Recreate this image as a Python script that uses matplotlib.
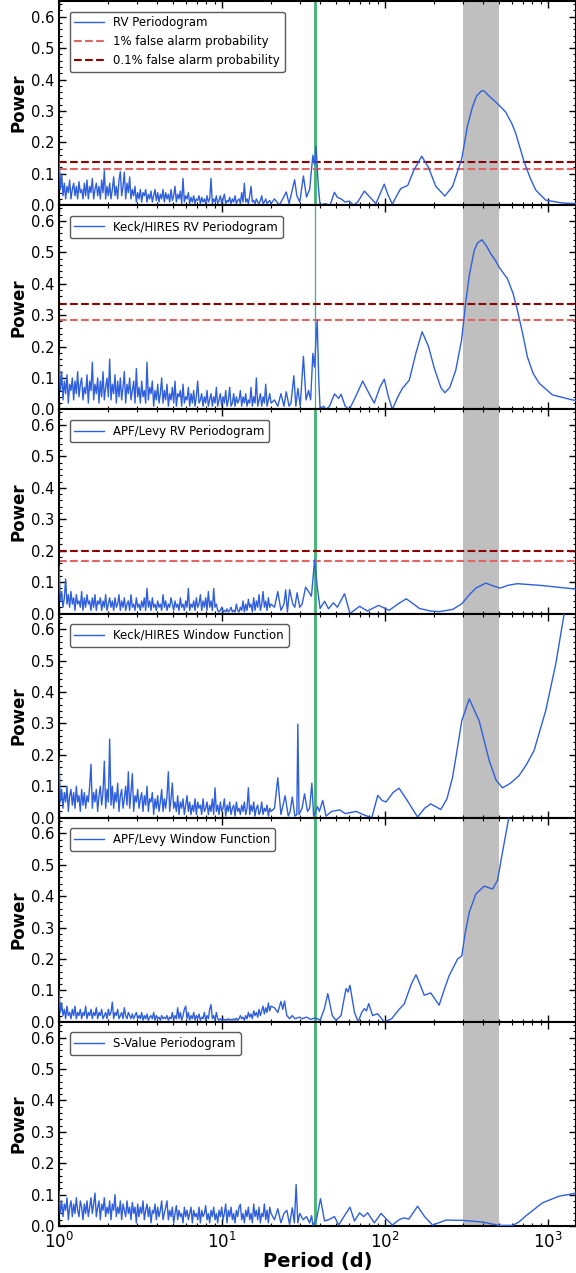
import numpy as np
import matplotlib
matplotlib.use('Agg')
import matplotlib.pyplot as plt
from matplotlib.ticker import AutoMinorLocator, LogLocator, MultipleLocator

# period grid of the noisy short-period part (1-20 d), shared by all panels
forest_per = np.geomspace(1, 20, 160)

# ---- RV periodogram (all data)
rv_forest = [0.16, 0.05, 0.10, 0.03, 0.07, 0.02, 0.06, 0.04, 0.08, 0.02, 0.05, 0.07, 0.03, 0.06, 0.02, 0.075, 0.04, 0.05, 0.02, 0.07,
             0.03, 0.08, 0.02, 0.06, 0.04, 0.085, 0.02, 0.05, 0.07, 0.03, 0.06, 0.02, 0.08, 0.04, 0.11, 0.02, 0.06, 0.03, 0.07, 0.02,
             0.05, 0.09, 0.03, 0.06, 0.02, 0.08, 0.107, 0.03, 0.06, 0.105, 0.02, 0.07, 0.04, 0.09, 0.02, 0.05, 0.03, 0.06, 0.01, 0.04,
             0.02, 0.05, 0.01, 0.04, 0.03, 0.05, 0.01, 0.035, 0.02, 0.045, 0.01, 0.03, 0.05, 0.015, 0.04, 0.01, 0.035, 0.02, 0.05, 0.01,
             0.04, 0.02, 0.035, 0.01, 0.05, 0.015, 0.03, 0.06, 0.01, 0.035, 0.02, 0.045, 0.005, 0.085, 0.01, 0.03, 0.02, 0.04, 0.005, 0.025,
             0.01, 0.03, 0.005, 0.02, 0.015, 0.03, 0.005, 0.025, 0.01, 0.02, 0.005, 0.03, 0.01, 0.02, 0.085, 0.005, 0.02, 0.01, 0.03, 0.005,
             0.015, 0.03, 0.005, 0.02, 0.035, 0.005, 0.015, 0.01, 0.025, 0.005, 0.02, 0.01, 0.03, 0.005, 0.015, 0.02, 0.005, 0.04, 0.01, 0.07,
             0.01, 0.02, 0.005, 0.03, 0.06, 0.01, 0.015, 0.005, 0.02, 0.01, 0.005, 0.015, 0.03, 0.005, 0.01, 0.02, 0.005, 0.01, 0.015, 0.005]
rv_tail_per = [21, 22.5, 24.8, 25.8, 26.5, 27.9, 28.8, 30, 31.6, 33, 34.5, 36.1, 36.9, 37.8,
               39, 40, 43, 46, 49, 51, 53.8, 57, 60.5, 64, 68, 74.8, 81, 88, 94, 99, 104,
               111, 118, 125, 138, 150, 168, 185, 205, 233, 260, 296, 320, 344, 365, 393, 410,
               430, 479, 520, 551, 600, 635, 714, 780, 842, 969, 1225, 1500]
rv_tail_pow = [0.02, 0.0, 0.042, 0.005, 0.03, 0.081, 0.03, 0.01, 0.093, 0.026, 0.05, 0.159,
               0.13, 0.188, 0.06, 0.0, 0.005, 0.0, 0.041, 0.025, 0.02, 0.01, 0.013, 0.0, 0.01,
               0.045, 0.025, 0.005, 0.04, 0.067, 0.035, 0.003, 0.03, 0.053, 0.063, 0.11,
               0.156, 0.12, 0.06, 0.029, 0.06, 0.148, 0.25, 0.312, 0.348, 0.365, 0.362, 0.35,
               0.328, 0.31, 0.296, 0.26, 0.228, 0.138, 0.085, 0.048, 0.016, 0.007, 0.005]

# ---- Keck/HIRES RV periodogram
keck_forest = [0.17, 0.06, 0.12, 0.03, 0.09, 0.05, 0.11, 0.02, 0.08, 0.06, 0.10, 0.03, 0.09, 0.05, 0.12, 0.04, 0.08, 0.10, 0.03, 0.07,
               0.05, 0.11, 0.02, 0.09, 0.06, 0.15, 0.03, 0.08, 0.05, 0.10, 0.02, 0.09, 0.04, 0.12, 0.03, 0.07, 0.10, 0.04, 0.16, 0.03,
               0.08, 0.05, 0.11, 0.02, 0.09, 0.04, 0.10, 0.03, 0.07, 0.12, 0.02, 0.08, 0.05, 0.10, 0.03, 0.06, 0.09, 0.02, 0.13, 0.04,
               0.07, 0.02, 0.09, 0.04, 0.06, 0.02, 0.15, 0.03, 0.07, 0.05, 0.09, 0.01, 0.06, 0.03, 0.08, 0.02, 0.05, 0.10, 0.02, 0.06,
               0.03, 0.08, 0.01, 0.05, 0.03, 0.07, 0.02, 0.09, 0.01, 0.05, 0.04, 0.06, 0.01, 0.08, 0.02, 0.04, 0.03, 0.07, 0.01, 0.05,
               0.02, 0.06, 0.01, 0.04, 0.09, 0.02, 0.03, 0.05, 0.01, 0.04, 0.02, 0.06, 0.01, 0.03, 0.05, 0.01, 0.04, 0.02, 0.07, 0.01,
               0.03, 0.05, 0.01, 0.04, 0.02, 0.06, 0.01, 0.03, 0.07, 0.01, 0.02, 0.05, 0.01, 0.04, 0.02, 0.03, 0.06, 0.01, 0.04, 0.02,
               0.05, 0.01, 0.03, 0.02, 0.07, 0.01, 0.04, 0.02, 0.10, 0.01, 0.03, 0.05, 0.01, 0.04, 0.02, 0.08, 0.01, 0.03, 0.05, 0.02]
keck_tail_per = [21, 22, 23, 24, 24.8, 25.8, 26.5, 27.6, 28.4, 29.2, 30.2, 31.6, 32.8, 34, 35,
                 36.1, 36.9, 38.4, 39.2, 40, 42, 43.5, 45.7, 49, 52, 53.8, 57, 60.5, 66, 73,
                 80, 86, 93, 99, 105, 111, 120, 128, 141, 155, 169, 185, 201, 220, 233, 250,
                 272, 295, 314, 330, 353, 370, 393, 420, 446, 475, 501, 530, 564, 610, 650, 700,
                 748, 810, 883, 1065, 1413, 1500]
keck_tail_pow = [0.03, 0.01, 0.05, 0.01, 0.056, 0.01, 0.02, 0.107, 0.01, 0.067, 0.01, 0.169,
                 0.03, 0.06, 0.03, 0.178, 0.135, 0.284, 0.1, 0.0, 0.01, 0.0, 0.01, 0.049, 0.035,
                 0.048, 0.01, 0.0, 0.04, 0.09, 0.05, 0.02, 0.07, 0.096, 0.04, 0.0, 0.04, 0.067,
                 0.093, 0.18, 0.247, 0.2, 0.13, 0.07, 0.053, 0.07, 0.125, 0.22, 0.347, 0.43,
                 0.506, 0.53, 0.54, 0.52, 0.495, 0.475, 0.453, 0.435, 0.416, 0.37, 0.315, 0.24,
                 0.167, 0.115, 0.083, 0.046, 0.03, 0.028]

# ---- APF/Levy RV periodogram
apf_forest = [0.15, 0.04, 0.07, 0.02, 0.05, 0.11, 0.03, 0.06, 0.02, 0.07, 0.03, 0.05, 0.01, 0.06, 0.03, 0.04, 0.02, 0.07, 0.01, 0.05,
              0.02, 0.06, 0.03, 0.04, 0.01, 0.05, 0.02, 0.06, 0.01, 0.04, 0.03, 0.05, 0.01, 0.04, 0.02, 0.06, 0.01, 0.03, 0.05, 0.02,
              0.04, 0.01, 0.05, 0.02, 0.03, 0.06, 0.01, 0.04, 0.02, 0.05, 0.01, 0.03, 0.04, 0.01, 0.06, 0.02, 0.03, 0.01, 0.05, 0.02,
              0.03, 0.01, 0.04, 0.02, 0.05, 0.01, 0.08, 0.02, 0.04, 0.01, 0.05, 0.02, 0.03, 0.01, 0.04, 0.02, 0.03, 0.01, 0.06, 0.02,
              0.04, 0.01, 0.03, 0.02, 0.05, 0.03, 0.01, 0.04, 0.02, 0.03, 0.01, 0.05, 0.02, 0.03, 0.01, 0.04, 0.02, 0.08, 0.01, 0.03,
              0.02, 0.04, 0.01, 0.05, 0.02, 0.03, 0.06, 0.01, 0.04, 0.02, 0.05, 0.01, 0.07, 0.02, 0.04, 0.01, 0.08, 0.02, 0.03, 0.01,
              0.005, 0.01, 0.02, 0.005, 0.01, 0.005, 0.015, 0.005, 0.01, 0.02, 0.005, 0.01, 0.005, 0.03, 0.01, 0.005, 0.02, 0.01, 0.04, 0.005,
              0.03, 0.01, 0.045, 0.02, 0.03, 0.005, 0.05, 0.01, 0.04, 0.02, 0.06, 0.01, 0.03, 0.07, 0.02, 0.04, 0.01, 0.05, 0.02, 0.03]
apf_tail_per = [21, 22, 23, 24, 24.6, 25.2, 26.0, 27.2, 28, 28.9, 30, 31.0, 32.6, 34, 35.4, 37.0,
                38.5, 40, 42.6, 45, 48.3, 51, 56.5, 61, 69.9, 78, 91.5, 106, 120, 135, 150,
                163, 190, 215, 260, 296, 330, 361, 416, 460, 509, 570, 650, 926, 1465, 1500]
apf_tail_pow = [0.02, 0.07, 0.01, 0.03, 0.075, 0.005, 0.076, 0.03, 0.02, 0.066, 0.02, 0.029,
                0.084, 0.07, 0.055, 0.171, 0.08, 0.016, 0.039, 0.015, 0.034, 0.02, 0.063, 0.0,
                0.023, 0.008, 0.026, 0.01, 0.03, 0.047, 0.03, 0.016, 0.008, 0.006, 0.013,
                0.031, 0.06, 0.081, 0.097, 0.088, 0.081, 0.09, 0.095, 0.089, 0.078, 0.078]

# ---- Keck/HIRES window function
kwin_forest = [0.19, 0.05, 0.09, 0.03, 0.08, 0.05, 0.10, 0.02, 0.07, 0.09, 0.04, 0.08, 0.03, 0.10, 0.05, 0.07, 0.02, 0.09, 0.04, 0.08,
               0.03, 0.07, 0.05, 0.10, 0.17, 0.03, 0.08, 0.05, 0.09, 0.02, 0.07, 0.10, 0.04, 0.08, 0.18, 0.03, 0.09, 0.05, 0.25, 0.04,
               0.10, 0.03, 0.08, 0.05, 0.11, 0.02, 0.07, 0.09, 0.03, 0.06, 0.10, 0.04, 0.146, 0.03, 0.08, 0.14, 0.02, 0.07, 0.05, 0.09,
               0.03, 0.06, 0.08, 0.02, 0.07, 0.04, 0.10, 0.02, 0.06, 0.05, 0.08, 0.01, 0.06, 0.03, 0.07, 0.02, 0.05, 0.09, 0.02, 0.06,
               0.03, 0.07, 0.146, 0.02, 0.06, 0.11, 0.03, 0.05, 0.02, 0.07, 0.01, 0.05, 0.03, 0.06, 0.01, 0.04, 0.07, 0.02, 0.05, 0.01,
               0.04, 0.02, 0.06, 0.01, 0.05, 0.03, 0.04, 0.01, 0.06, 0.02, 0.03, 0.05, 0.01, 0.04, 0.02, 0.06, 0.01, 0.095, 0.02, 0.04,
               0.01, 0.05, 0.02, 0.03, 0.06, 0.005, 0.04, 0.02, 0.05, 0.01, 0.03, 0.04, 0.005, 0.05, 0.02, 0.03, 0.01, 0.04, 0.02, 0.05,
               0.01, 0.03, 0.095, 0.01, 0.04, 0.02, 0.05, 0.005, 0.03, 0.04, 0.01, 0.02, 0.05, 0.01, 0.03, 0.02, 0.04, 0.005, 0.03, 0.02]
kwin_tail_per = [21, 22, 23, 24.4, 25.5, 26.2, 27, 28, 28.8, 29.2, 29.7, 31, 32.1, 33.5, 34.5,
                 35.6, 36.5, 38.6, 39.6, 41.5, 43.5, 47, 52.6, 57, 66.5, 75, 83, 90.3, 96,
                 101.6, 112, 122, 135, 158.6, 175, 191, 220, 240, 260, 280, 296, 329, 378,
                 436, 480, 526, 590, 665, 740, 822, 969, 1116, 1256, 1320]
kwin_tail_pow = [0.03, 0.127, 0.01, 0.07, 0.005, 0.02, 0.066, 0.005, 0.01, 0.298, 0.01, 0.03,
                 0.076, 0.02, 0.03, 0.11, 0.005, 0.035, 0.02, 0.055, 0.005, 0.02, 0.025, 0.013,
                 0.02, 0.008, 0.0, 0.071, 0.055, 0.05, 0.08, 0.094, 0.06, 0.002, 0.03, 0.044,
                 0.026, 0.06, 0.129, 0.23, 0.309, 0.378, 0.309, 0.182, 0.12, 0.095, 0.11,
                 0.134, 0.17, 0.214, 0.341, 0.489, 0.648, 0.72]

# ---- APF/Levy window function
awin_forest = [0.10, 0.03, 0.06, 0.02, 0.04, 0.01, 0.05, 0.02, 0.03, 0.01, 0.04, 0.02, 0.05, 0.01, 0.03, 0.02, 0.04, 0.01, 0.03, 0.02,
               0.05, 0.01, 0.03, 0.02, 0.04, 0.01, 0.03, 0.02, 0.045, 0.01, 0.03, 0.02, 0.04, 0.01, 0.02, 0.03, 0.01, 0.04, 0.02, 0.03,
               0.063, 0.01, 0.03, 0.02, 0.04, 0.01, 0.02, 0.03, 0.01, 0.045, 0.02, 0.01, 0.03, 0.02, 0.01, 0.025, 0.01, 0.02, 0.03, 0.01,
               0.02, 0.01, 0.03, 0.005, 0.02, 0.01, 0.025, 0.005, 0.015, 0.02, 0.01, 0.03, 0.005, 0.02, 0.01, 0.015, 0.005, 0.02, 0.01, 0.015,
               0.01, 0.02, 0.005, 0.015, 0.01, 0.03, 0.005, 0.02, 0.01, 0.045, 0.01, 0.03, 0.005, 0.02, 0.04, 0.05, 0.01, 0.03, 0.005, 0.02,
               0.01, 0.03, 0.005, 0.02, 0.01, 0.025, 0.005, 0.015, 0.01, 0.03, 0.005, 0.02, 0.01, 0.04, 0.055, 0.01, 0.02, 0.005, 0.03, 0.01,
               0.005, 0.01, 0.005, 0.01, 0.005, 0.008, 0.005, 0.01, 0.005, 0.008, 0.005, 0.01, 0.005, 0.012, 0.005, 0.01, 0.02, 0.01, 0.015, 0.005,
               0.02, 0.01, 0.03, 0.015, 0.025, 0.01, 0.035, 0.02, 0.03, 0.015, 0.04, 0.02, 0.035, 0.05, 0.025, 0.045, 0.03, 0.06, 0.035, 0.05]
awin_tail_per = [21, 22, 23, 23.6, 24.2, 25, 26, 27, 28, 30, 31, 33, 35, 37, 38.5, 40, 42.5,
                 44.6, 47.5, 50, 53.8, 55.5, 57.7, 59.3, 61, 65, 68.5, 72, 74.8, 77, 79.5, 84,
                 90, 99, 110, 120, 131.5, 145, 155, 164, 174, 191, 215, 230, 248, 279, 296,
                 310, 329, 361, 406, 457, 490, 526, 578, 600]
awin_tail_pow = [0.045, 0.03, 0.065, 0.04, 0.066, 0.02, 0.01, 0.02, 0.01, 0.015, 0.01, 0.015,
                 0.008, 0.012, 0.01, 0.005, 0.042, 0.09, 0.02, 0.005, 0.02, 0.06, 0.106, 0.095,
                 0.116, 0.03, 0.0, 0.03, 0.042, 0.035, 0.058, 0.02, 0.026, 0.0, 0.01, 0.035,
                 0.058, 0.12, 0.15, 0.12, 0.085, 0.092, 0.053, 0.1, 0.148, 0.2, 0.21, 0.28,
                 0.349, 0.407, 0.432, 0.423, 0.45, 0.54, 0.656, 0.7]

# ---- S-value periodogram
sval_forest = [0.11, 0.04, 0.08, 0.03, 0.07, 0.05, 0.09, 0.02, 0.06, 0.08, 0.03, 0.07, 0.04, 0.09, 0.05, 0.03, 0.08, 0.06, 0.02, 0.07,
               0.04, 0.08, 0.03, 0.06, 0.09, 0.04, 0.07, 0.105, 0.03, 0.06, 0.08, 0.02, 0.07, 0.05, 0.09, 0.03, 0.06, 0.04, 0.08, 0.02,
               0.07, 0.05, 0.10, 0.03, 0.06, 0.04, 0.08, 0.02, 0.07, 0.05, 0.03, 0.08, 0.04, 0.06, 0.02, 0.075, 0.04, 0.06, 0.01, 0.07,
               0.03, 0.06, 0.04, 0.08, 0.02, 0.05, 0.07, 0.03, 0.06, 0.01, 0.05, 0.04, 0.07, 0.02, 0.06, 0.03, 0.05, 0.08, 0.02, 0.04,
               0.06, 0.08, 0.02, 0.05, 0.03, 0.06, 0.01, 0.04, 0.065, 0.02, 0.05, 0.03, 0.04, 0.01, 0.06, 0.03, 0.05, 0.02, 0.04, 0.06,
               0.01, 0.05, 0.03, 0.04, 0.02, 0.06, 0.01, 0.05, 0.03, 0.04, 0.065, 0.02, 0.04, 0.01, 0.05, 0.03, 0.06, 0.02, 0.04, 0.01,
               0.05, 0.03, 0.06, 0.02, 0.04, 0.07, 0.01, 0.05, 0.03, 0.06, 0.02, 0.04, 0.01, 0.05, 0.03, 0.06, 0.069, 0.02, 0.04, 0.01,
               0.05, 0.03, 0.06, 0.02, 0.04, 0.01, 0.07, 0.03, 0.05, 0.02, 0.06, 0.01, 0.04, 0.03, 0.07, 0.02, 0.05, 0.01, 0.06, 0.04]
sval_tail_per = [21, 22, 23, 24, 25, 26, 27, 27.8, 28.5, 29.2, 30, 31.5, 33, 34.5, 35.5, 36.1,
                 38, 40.2, 42.6, 45, 49, 52, 56, 61, 65, 69.9, 74, 78.3, 86, 94.6, 103, 111,
                 122, 131, 140, 158.6, 175, 196, 237, 297, 393, 501, 606, 660, 731, 926, 1170,
                 1500]
sval_tail_pow = [0.02, 0.055, 0.01, 0.04, 0.05, 0.005, 0.058, 0.01, 0.132, 0.01, 0.04, 0.02,
                 0.03, 0.01, 0.033, 0.003, 0.02, 0.087, 0.016, 0.02, 0.03, 0.003, 0.03, 0.06,
                 0.016, 0.042, 0.03, 0.042, 0.01, 0.04, 0.02, 0.003, 0.02, 0.026, 0.022, 0.063,
                 0.03, 0.003, 0.019, 0.018, 0.013, 0.002, 0.002, 0.012, 0.032, 0.074, 0.095,
                 0.105]

labels = ['RV Periodogram', 'Keck/HIRES RV Periodogram', 'APF/Levy RV Periodogram',
          'Keck/HIRES Window Function', 'APF/Levy Window Function', 'S-Value Periodogram']
forests = [rv_forest, keck_forest, apf_forest, kwin_forest, awin_forest, sval_forest]
tails_per = [rv_tail_per, keck_tail_per, apf_tail_per, kwin_tail_per, awin_tail_per, sval_tail_per]
tails_pow = [rv_tail_pow, keck_tail_pow, apf_tail_pow, kwin_tail_pow, awin_tail_pow, sval_tail_pow]

fap_1pct = [0.114, 0.285, 0.166]
fap_01pct = [0.138, 0.334, 0.198]

planet_period = 37.3
window_lo, window_hi = 300, 500

blue = '#2f5fdc'

fig, axes = plt.subplots(6, 1, figsize=(5.76, 12.73), dpi=100, sharex=True)
fig.subplots_adjust(left=0.1024, right=0.9995, top=0.9992, bottom=0.0369, hspace=0)

for i, ax in enumerate(axes):
    per = np.concatenate([forest_per, tails_per[i]])
    pw = np.concatenate([forests[i], tails_pow[i]])
    ax.axvspan(window_lo, window_hi, color='#bfbfbf', lw=0, zorder=0)
    ax.axvline(planet_period, color='#3cb371', lw=0.9 if i == 1 else 2.0, zorder=1)
    ax.plot(per, pw, color=blue, lw=1.0, label=labels[i], zorder=3)
    if i < 3:
        lab1 = '1% false alarm probability' if i == 0 else None
        lab2 = '0.1% false alarm probability' if i == 0 else None
        ax.axhline(fap_1pct[i], color='#e06666', ls='--', lw=1.5, label=lab1, zorder=2)
        ax.axhline(fap_01pct[i], color='#8b0000', ls='--', lw=1.5, label=lab2, zorder=2)

    ax.set_xscale('log')
    ax.set_xlim(1, 1480)
    ax.set_ylim(0, 0.65)
    ax.yaxis.set_major_locator(MultipleLocator(0.1))
    ax.yaxis.set_minor_locator(AutoMinorLocator(5))
    ax.xaxis.set_major_locator(LogLocator(base=10))
    ax.xaxis.set_minor_locator(LogLocator(base=10, subs=np.arange(2, 10)))
    ax.tick_params(which='both', direction='in', top=True, right=True)
    ax.tick_params(which='major', length=5, width=1, labelsize=10.5)
    ax.tick_params(which='minor', length=2.5, width=0.8)
    for s in ax.spines.values():
        s.set_linewidth(1.5)
    ax.set_ylabel('Power', fontsize=12, fontweight='bold', labelpad=2)
    leg = ax.legend(loc='upper left', fontsize=8.5, borderaxespad=0.9, framealpha=1,
                    fancybox=True, handlelength=2.5)
    leg.get_frame().set_edgecolor('0.35')

axes[-1].tick_params(axis='x', which='major', labelsize=12, pad=4)
axes[-1].set_xlabel('Period (d)', fontsize=14, fontweight='bold', labelpad=0)

fig.savefig('out.png', dpi=100)
